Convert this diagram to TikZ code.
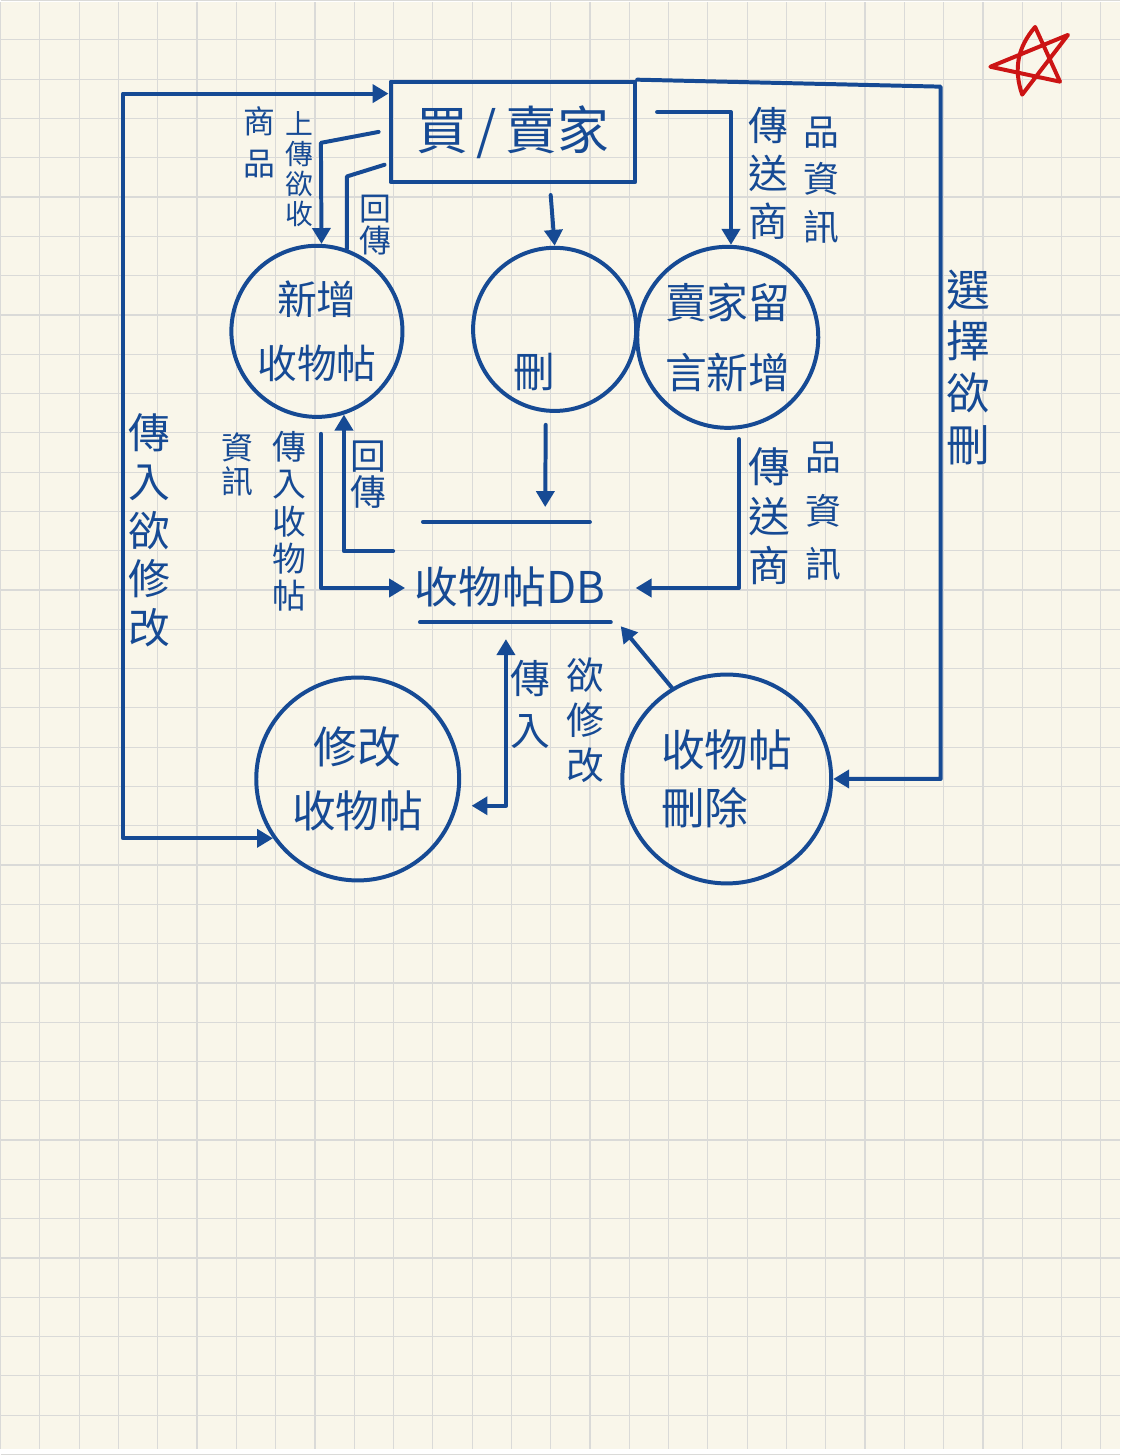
\documentclass[tikz,border=0pt]{standalone}
\usepackage{fontspec}
\setmainfont{Noto Sans CJK TC}
\usepackage{tikz}
\usetikzlibrary{arrows.meta, calc}
\usepackage{xcolor}
\definecolor{ink}{RGB}{22,74,148}
\definecolor{paper}{RGB}{249,246,234}
\definecolor{gridline}{RGB}{218,218,216}
\definecolor{starred}{RGB}{204,20,20}
\newcommand{\fs}[2]{\fontsize{#1}{#2}\selectfont}

\begin{document}
\begin{tikzpicture}[x=0.5pt, y=-0.5pt,
    pen/.style={draw=ink, line width=2pt, line cap=round, line join=round},
    proc/.style={pen, circle, inner sep=0pt, text=ink, align=center},
    flow/.style={pen, -{Triangle[length=8pt,width=9pt]}},
    bothflow/.style={pen, {Triangle[length=8pt,width=9pt]}-{Triangle[length=8pt,width=9pt]}},
    tag/.style={text=ink, align=center, inner sep=0pt}]
            \fill[paper] (0,0) rectangle (1125,1455);
            \foreach \i in {0,...,28} \draw[gridline, line width=0.6pt] (\i*39.5,0) -- (\i*39.5,1455);
            \foreach \j in {0,...,37} \draw[gridline, line width=0.6pt] (0,\j*39.5-1.5) -- (1125,\j*39.5-1.5);
            \useasboundingbox (0,0) rectangle (1125,1455);

            \node[pen, rectangle, minimum width=123pt, minimum height=50.5pt, text=ink, font={\fs{26}{30}}] (market) at (515,130.5) {買\,/\,賣家};
            \node[proc, minimum size=86pt, font={\fs{20}{32}}] (addpost) at (318,331) {新增\\收物帖};
            \node[proc, minimum size=82pt] (delpost) at (557,329) {};
            \node[tag, font={\fs{21}{24}}] (deltext) at (537,372) {刪};
            \node[proc, minimum size=91pt, font={\fs{21}{35}}] (reply) at (731,337) {賣家留\\言新增};
            \node[proc, minimum size=102pt, font={\fs{22}{32}}] (editpost) at (359,781) {修改\\收物帖};
            \node[proc, minimum size=105pt, align=left, font={\fs{22}{29}}] (rmpost) at (730,781) {收物帖\\刪除};
            \node[minimum width=97.5pt, minimum height=50pt, inner sep=0pt] (store) at (517.5,573) {};
            \node[tag, font={\fs{22}{26}}] (storename) at (512,588) {收物帖DB};
            \draw[pen] ($(store.north west)+(5,0)$) -- ($(store.north east)+(-23,0)$);
            \draw[pen] ($(store.south west)+(2,0)$) -- ($(store.south east)+(-2,0)$);

            \coordinate (lefttop) at (123,92);
            \coordinate (righttop) at (945,85);
            \draw[bothflow] (market.west |- lefttop) -- (lefttop) -- (lefttop |- editpost.215) -- (editpost.215);
            \draw[flow] ($(market.west)+(-10,0)$) -- ++(-58,11) -- (addpost.87);
            \draw[pen] (addpost.70) -- ++(0,-73) -- ($(market.west)+(-4,33)$);
            \draw[flow] ($(market.south)+(38,11)$) -- (delpost.north);
            \draw[flow] ($(market.east)+(20,-20)$) -| (reply.88);
            \draw[flow] (market.north east) -- (righttop) -- (righttop |- rmpost.east) -- (rmpost.east);
            \draw[flow] ($(delpost.south)+(-9,12)$) -- ($(store.north)+(30,-15)$);
            \draw[flow] ($(addpost.south)+(4,15)$) |- ($(store.west)+(-13,16)$);
            \draw[flow] ($(store.west)+(-25,-21)$) -| (addpost.288);
            \draw[flow] ($(reply.277)+(0,10)$) |- ($(store.east)+(23,16)$);
            \draw[bothflow] ($(editpost.345)+(14,0)$) -| ($(store.south)+(-9.5,17)$);
            \draw[flow] (rmpost.121) -- ($(store.south east)+(8,4)$);

            \node[tag, font={\fs{16}{21.5}}] (goods) at (260,141) {商\\品};
            \node[tag, font={\fs{14}{15}}] (upload) at (300,168) {上\\傳\\欲\\收};
            \node[tag, font={\fs{16}{16}}] (backtop) at (377,224) {回\\傳};
            \node[tag, font={\fs{20}{24}}] (sendtop) at (772,172) {傳\\送\\商};
            \node[tag, font={\fs{18}{24}}] (infotop) at (825,179) {品\\資\\訊};
            \node[tag, font={\fs{22}{26}}] (pickdel) at (973,367) {選\\擇\\欲\\刪};
            \node[tag, font={\fs{21}{24.5}}] (pickedit) at (150,531) {傳\\入\\欲\\修\\改};
            \node[tag, font={\fs{16}{17}}] (postinfo) at (238,465) {資\\訊};
            \node[tag, font={\fs{17}{18.75}}] (sendpost) at (290,522) {傳\\入\\收\\物\\帖};
            \node[tag, font={\fs{18}{18}}] (backlow) at (370,475) {回\\傳};
            \node[tag, font={\fs{21}{25}}] (sendlow) at (773,517) {傳\\送\\商};
            \node[tag, font={\fs{18}{27}}] (infolow) at (827,512) {品\\資\\訊};
            \node[tag, font={\fs{20}{26.5}}] (editin) at (533,706) {傳\\入};
            \node[tag, font={\fs{19}{22.5}}] (editwant) at (588,722) {欲\\修\\改};

            \draw[draw=starred, line width=2pt, line join=round, line cap=round] (1040,25) to[bend right=30] (1027,93) -- (1073,33) -- (995,65) -- (1065,80) -- cycle;
        \end{tikzpicture}
\end{document}
